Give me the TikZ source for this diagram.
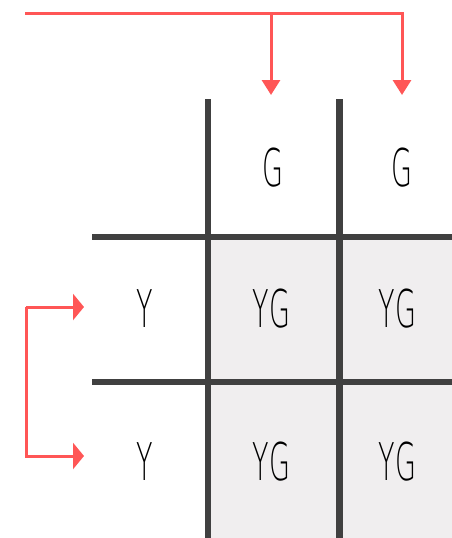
\documentclass[tikz,border=0pt]{standalone}
\usepackage{fontspec}
\newfontfamily\cellfont[FakeStretch=0.52]{DejaVu Sans ExtraLight}
\usetikzlibrary{arrows.meta}
\definecolor{arrowred}{HTML}{FF5656}
\definecolor{gridgrey}{HTML}{404040}
\definecolor{cellfill}{HTML}{F0EEEF}
\begin{document}
\begin{tikzpicture}[x=1pt,y=-1pt,
  gridline/.style={draw=gridgrey,line width=6.5pt},
  celltext/.style={inner sep=0pt,font=\cellfont\fontsize{52}{52}\selectfont,text=black},
  redline/.style={draw=arrowred,line width=3pt,line join=miter},
  toparrow/.style={redline,-{Triangle[length=15pt,width=18pt]}},
  leftarrow/.style={redline,-{Triangle[length=11pt,width=26pt]}}]
\useasboundingbox (0,0) rectangle (452,538);
% shaded cells
\fill[cellfill] (208,237) rectangle (452,538);
% grid
\draw[gridline] (208,99) -- (208,538);
\draw[gridline] (339.5,99) -- (339.5,538);
\draw[gridline] (92,237) -- (452,237);
\draw[gridline] (92,382) -- (452,382);
% texts
\node[celltext] (g1) at (272.5,168) {G};
\node[celltext] (g2) at (401.5,168) {G};
\node[celltext] (y1) at (144.5,309) {Y};
\node[celltext] (y2) at (144.5,462) {Y};
\node[celltext] (yg11) at (271.5,309) {YG};
\node[celltext] (yg12) at (397.5,309) {YG};
\node[celltext] (yg21) at (271.5,462) {YG};
\node[celltext] (yg22) at (397.5,462) {YG};
% top arrows
\coordinate (tstart) at (25,13);
\coordinate (ta1) at (271,95);
\coordinate (ta2) at (402,95);
\draw[toparrow] (tstart) -| (ta2);
\draw[toparrow] (ta1 |- tstart) -- (ta1);
% left arrows
\coordinate (lcorner) at (26,307);
\coordinate (la1) at (84,307);
\coordinate (la2) at (84,456);
\draw[leftarrow] (lcorner) -- (la1);
\draw[leftarrow] (lcorner) |- (la2);
\end{tikzpicture}
\end{document}
